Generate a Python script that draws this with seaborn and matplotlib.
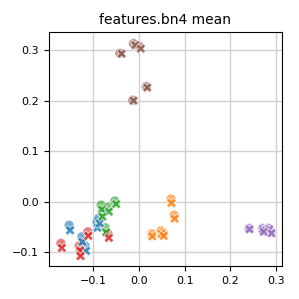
import matplotlib
matplotlib.use("Agg")
import matplotlib.pyplot as plt
import seaborn as sns
import pandas as pd

# circle points (per class)
circ_cls = [0]*5 + [1]*5 + [2]*5 + [3]*5 + [4]*5 + [5]*5
circ_x = [-0.153, -0.092, -0.088, -0.125, -0.118,
          0.070, 0.077, 0.048, 0.028, 0.053,
          -0.083, -0.068, -0.053, -0.074, -0.081,
          -0.171, -0.131, -0.112, -0.068, -0.129,
          0.241, 0.270, 0.284, 0.289, 0.272,
          -0.042, -0.012, 0.000, -0.014, 0.016]
circ_y = [-0.047, -0.041, -0.033, -0.070, -0.088,
          0.005, -0.027, -0.058, -0.064, -0.062,
          -0.007, -0.011, 0.001, -0.052, -0.021,
          -0.083, -0.088, -0.060, -0.064, -0.100,
          -0.053, -0.053, -0.053, -0.060, -0.058,
          0.294, 0.313, 0.308, 0.201, 0.228]

# cross points (per class)
crs_cls = circ_cls
crs_x = [-0.151, -0.091, -0.086, -0.124, -0.116,
         0.071, 0.078, 0.049, 0.029, 0.054,
         -0.081, -0.066, -0.050, -0.072, -0.080,
         -0.169, -0.129, -0.111, -0.066, -0.128,
         0.242, 0.271, 0.285, 0.290, 0.273,
         -0.038, -0.008, 0.004, -0.012, 0.018]
crs_y = [-0.057, -0.052, -0.043, -0.080, -0.098,
         -0.003, -0.034, -0.064, -0.069, -0.068,
         -0.016, -0.020, -0.005, -0.061, -0.030,
         -0.092, -0.097, -0.068, -0.072, -0.108,
         -0.055, -0.055, -0.055, -0.063, -0.060,
         0.293, 0.310, 0.303, 0.200, 0.226]

title = "features.bn4 mean"

df_c = pd.DataFrame({"x": circ_x, "y": circ_y, "cls": circ_cls})
df_x = pd.DataFrame({"x": crs_x, "y": crs_y, "cls": crs_cls})

fig = plt.figure(figsize=(2.99, 2.99), dpi=100)
ax = fig.add_axes([0.164, 0.110, 0.779, 0.783])
pal = sns.color_palette("tab10", 6)
sns.scatterplot(data=df_c, x="x", y="y", hue="cls", palette=pal, marker="o",
                s=50, alpha=0.6, legend=False, ax=ax, zorder=3)
sns.scatterplot(data=df_x, x="x", y="y", hue="cls", palette=pal, marker="X",
                s=50, alpha=0.8, legend=False, ax=ax, zorder=4)
ax.set_xlim(-0.197, 0.313)
ax.set_ylim(-0.128, 0.336)
ax.set_xticks([-0.1, 0.0, 0.1, 0.2, 0.3])
ax.set_yticks([-0.1, 0.0, 0.1, 0.2, 0.3])
ax.grid(True, color="#d0d0d0", linewidth=1.0, zorder=0)
ax.set_axisbelow(True)
ax.set_xlabel("")
ax.set_ylabel("")
ax.tick_params(labelsize=8)
ax.set_title(title, fontsize=10)
fig.savefig("out.png", dpi=100)
